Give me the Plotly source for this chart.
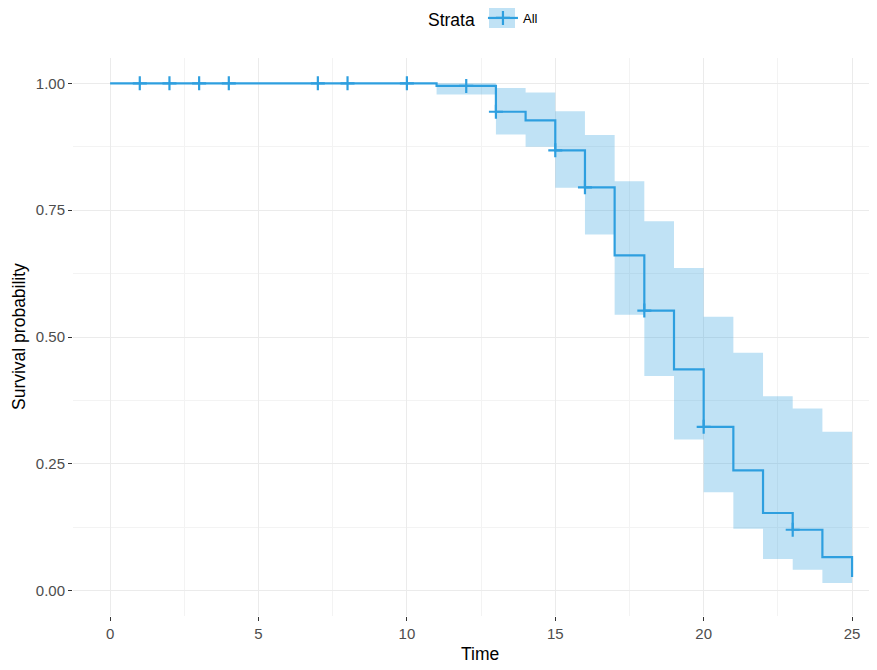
import numpy as np
import plotly.graph_objects as go

# Kaplan-Meier step data
step_time = [0, 11, 13, 14, 15, 16, 17, 18, 19, 20, 21, 22, 23, 24, 25]
surv = [1.0, 0.995, 0.944, 0.927, 0.868, 0.795, 0.661, 0.552, 0.436, 0.323, 0.237, 0.153, 0.120, 0.066, 0.027]
upper = [1.0, 1.0, 0.991, 0.982, 0.945, 0.898, 0.807, 0.728, 0.636, 0.540, 0.469, 0.383, 0.359, 0.313, 0.313]
lower = [1.0, 0.978, 0.899, 0.875, 0.794, 0.702, 0.544, 0.423, 0.298, 0.194, 0.122, 0.0625, 0.041, 0.015, 0.015]
censor_time = [1, 2, 3, 4, 7, 8, 10, 12, 13, 15, 16, 18, 20, 23]
x_ticks = [0, 5, 10, 15, 20, 25]
y_ticks = [0.0, 0.25, 0.5, 0.75, 1.0]
y_tick_labels = ["0.00", "0.25", "0.50", "0.75", "1.00"]
strata_name = "All"
x_title = "Time"
y_title = "Survival probability"
legend_title = "Strata"

COLOR = "#2E9FDF"
FILL = "rgba(46,159,223,0.30)"

idx = np.searchsorted(step_time, censor_time, side="right") - 1
censor_surv = [surv[i] for i in idx]

fig = go.Figure()
fig.add_trace(go.Scatter(x=step_time, y=upper, mode="lines", line=dict(width=0, shape="hv"),
                         showlegend=False, hoverinfo="skip"))
fig.add_trace(go.Scatter(x=step_time, y=lower, mode="lines", line=dict(width=0, shape="hv"),
                         fill="tonexty", fillcolor=FILL, showlegend=False, hoverinfo="skip"))
fig.add_trace(go.Scatter(x=step_time, y=surv, mode="lines", line=dict(color=COLOR, width=2.2, shape="hv"),
                         showlegend=False))
fig.add_trace(go.Scatter(x=censor_time, y=censor_surv, mode="markers",
                         marker=dict(symbol="cross-thin", size=10, line=dict(color=COLOR, width=2.2)),
                         showlegend=False))
# legend entry
fig.add_trace(go.Scatter(x=[None], y=[None], mode="lines+markers", name=strata_name,
                         line=dict(color=COLOR, width=2.2),
                         marker=dict(symbol="cross-thin", size=10, line=dict(color=COLOR, width=2.2))))

# page body has an 8px offset; plot area in screen px: left 73, top 58, right 877, bottom 616
W, H = 869, 662
PL, PT, PB = 73, 58, 616
PW, PH = 877 - PL, PB - PT

def px_to_paper_x(px):
    return (px - PL) / PW

def px_to_paper_y(py):
    return (PB - py) / PH

# light fill behind legend key (as in ggplot key)
fig.add_shape(type="rect", xref="paper", yref="paper",
              x0=px_to_paper_x(489), x1=px_to_paper_x(515),
              y0=px_to_paper_y(28), y1=px_to_paper_y(3),
              fillcolor=FILL, line=dict(width=0), layer="below")

# axis titles
fig.add_annotation(text=y_title, xref="paper", yref="paper", x=px_to_paper_x(19), y=px_to_paper_y(337),
                   textangle=-90, showarrow=False, xanchor="center", yanchor="middle",
                   font=dict(size=17.5, color="#000000"))
fig.add_annotation(text=x_title, xref="paper", yref="paper", x=px_to_paper_x(480), y=px_to_paper_y(654),
                   showarrow=False, xanchor="center", yanchor="middle",
                   font=dict(size=17.5, color="#000000"))

grid = "#EBEBEB"
minor_grid = "#F3F3F3"
fig.update_layout(
    width=W, height=H,
    paper_bgcolor="white", plot_bgcolor="white",
    margin=dict(l=PL - 8, r=0, t=PT - 8, b=H + 8 - PB, autoexpand=False),
    font=dict(family="Liberation Sans, Arial, sans-serif", color="#000000"),
    showlegend=True,
    legend=dict(orientation="h", x=418 / W, xref="container", xanchor="left",
                y=px_to_paper_y(3), yref="paper", yanchor="top",
                title=dict(text=legend_title, font=dict(size=17.5, color="#000000")),
                font=dict(size=13, color="#000000"), bgcolor="rgba(0,0,0,0)", itemwidth=30),
    xaxis=dict(range=[-1.25, 25.84], tickvals=x_ticks, ticks="outside", ticklen=4, tickcolor="#333333",
               tickwidth=1, tickfont=dict(size=15, color="#4D4D4D"), showgrid=True, gridcolor=grid,
               gridwidth=1, zeroline=False, showline=False, automargin=False,
               minor=dict(dtick=2.5, tick0=0, showgrid=True, gridcolor=minor_grid, gridwidth=1, ticks="")),
    yaxis=dict(range=[-0.05, 1.05], tickvals=y_ticks, ticktext=y_tick_labels, ticks="outside", ticklen=4,
               tickcolor="#333333", tickwidth=1, tickfont=dict(size=15, color="#4D4D4D"), showgrid=True,
               gridcolor=grid, gridwidth=1, zeroline=False, showline=False, automargin=False,
               minor=dict(dtick=0.125, tick0=0, showgrid=True, gridcolor=minor_grid, gridwidth=1, ticks="")),
)

fig.write_html("out.html")
